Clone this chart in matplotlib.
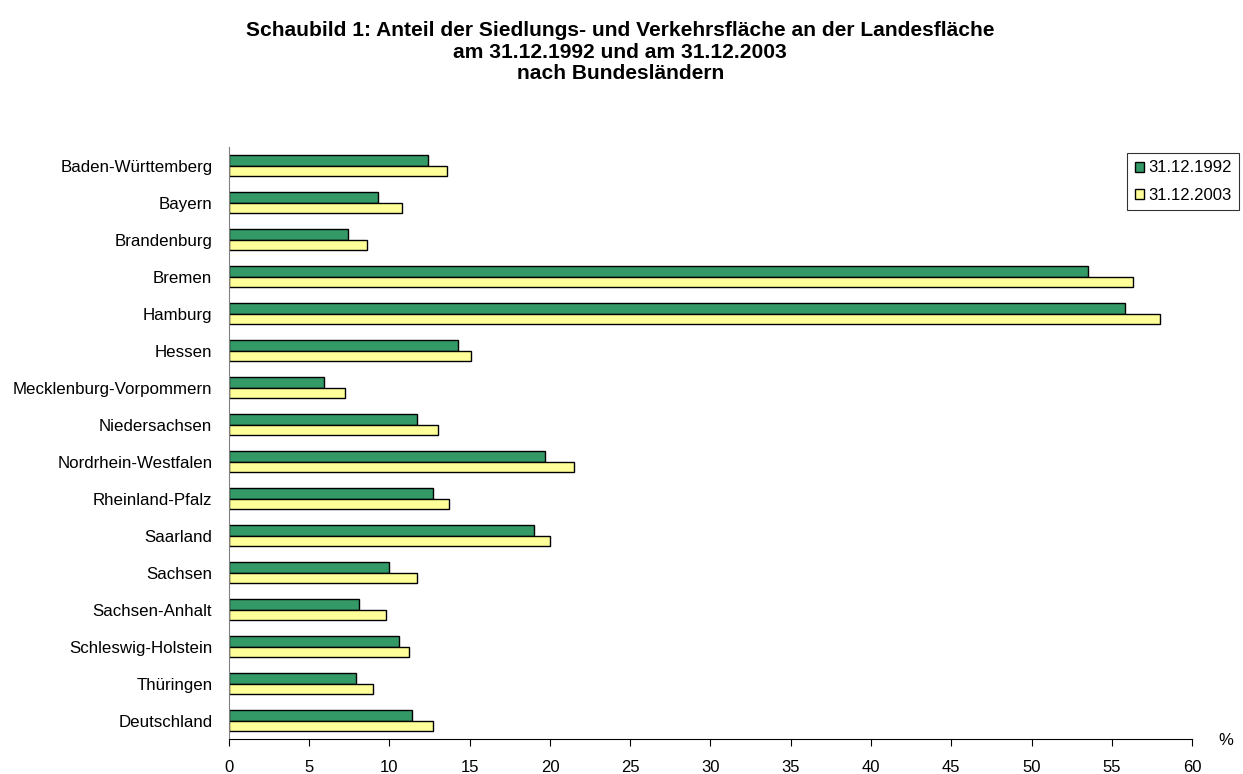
import numpy as np
import matplotlib
matplotlib.use('Agg')
import matplotlib.pyplot as plt

plt.rcParams['font.family'] = ['Liberation Sans', 'DejaVu Sans']

# Bundeslaender, von oben nach unten
laender = ['Baden-Württemberg', 'Bayern', 'Brandenburg', 'Bremen', 'Hamburg',
           'Hessen', 'Mecklenburg-Vorpommern', 'Niedersachsen',
           'Nordrhein-Westfalen', 'Rheinland-Pfalz', 'Saarland', 'Sachsen',
           'Sachsen-Anhalt', 'Schleswig-Holstein', 'Thüringen', 'Deutschland']

# Anteil in %
anteil_1992 = [12.4, 9.3, 7.4, 53.5, 55.8, 14.3, 5.9, 11.7,
               19.7, 12.7, 19.0, 10.0, 8.1, 10.6, 7.9, 11.4]
anteil_2003 = [13.6, 10.8, 8.6, 56.3, 58.0, 15.1, 7.2, 13.0,
               21.5, 13.7, 20.0, 11.7, 9.8, 11.2, 9.0, 12.7]

serien = ['31.12.1992', '31.12.2003']
farben = ['#339966', '#FFFF99']

fig = plt.figure(figsize=(12.43, 7.74), dpi=100)
ax = fig.add_axes([0.1842, 0.0452, 0.7748, 0.7648])

y = np.arange(len(laender))
h = 0.295
ax.barh(y - h / 2, anteil_1992, height=h, color=farben[0], edgecolor='black',
        linewidth=1.0, label=serien[0])
ax.barh(y + h / 2, anteil_2003, height=h, color=farben[1], edgecolor='black',
        linewidth=1.0, label=serien[1])

ax.set_xlim(0, 60)
ax.set_ylim(len(laender) - 0.5, -0.5)
ax.set_xticks(np.arange(0, 61, 5))
ax.set_yticks(y)
ax.set_yticklabels(laender)

ax.tick_params(axis='y', length=0, pad=12, labelsize=12.2)
ax.tick_params(axis='x', length=5, direction='out', pad=10, labelsize=12,
               color='black')

for s in ['top', 'right']:
    ax.spines[s].set_visible(False)
ax.spines['left'].set_color('#808080')
ax.spines['bottom'].set_color('black')

ax.text(1.035, -0.003, '%', transform=ax.transAxes, fontsize=12,
        ha='center', va='center')

leg = ax.legend(loc='upper right', bbox_to_anchor=(1239 / 1243, 1 - 153 / 774),
                bbox_transform=fig.transFigure, fontsize=12, frameon=True,
                fancybox=False, edgecolor='black', handlelength=0.55,
                handleheight=0.55, handletextpad=0.25, borderpad=0.45,
                labelspacing=0.72, borderaxespad=0.0)
leg.get_frame().set_linewidth(0.8)

fig.text(0.499, 1 - 52 / 774,
         'Schaubild 1: Anteil der Siedlungs- und Verkehrsfläche an der Landesfläche\n'
         'am 31.12.1992 und am 31.12.2003\n'
         'nach Bundesländern',
         ha='center', va='center', fontsize=15.1, fontweight='bold',
         linespacing=1.16)

fig.savefig('out.png', dpi=100)
